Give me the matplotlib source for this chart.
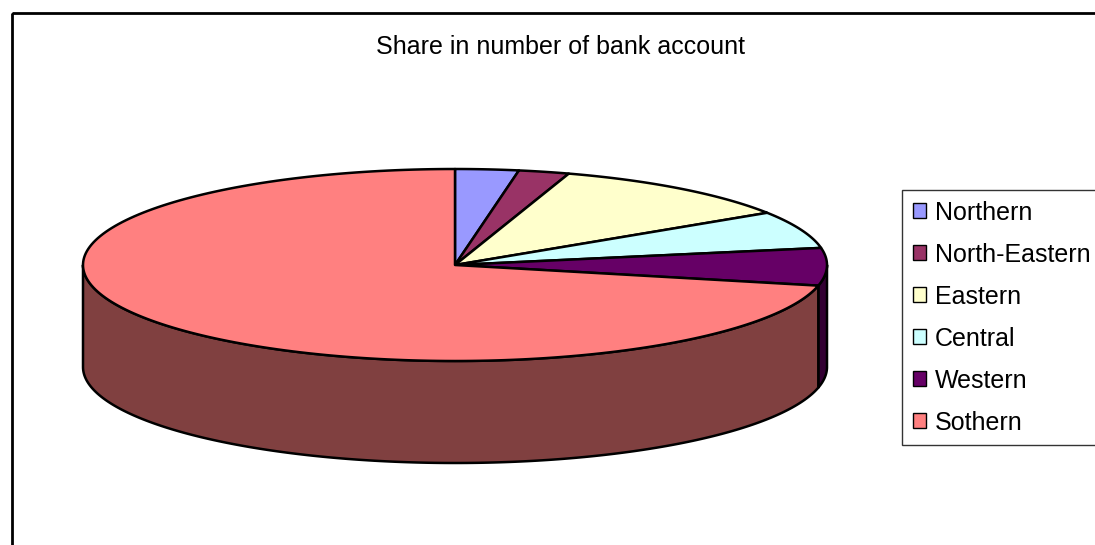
import numpy as np
import matplotlib.pyplot as plt
from matplotlib.patches import Polygon, Rectangle, Patch

plt.rcParams['font.family'] = ['Liberation Sans', 'DejaVu Sans']

# data (shares, %)
regions = ['Northern', 'North-Eastern', 'Eastern', 'Central', 'Western', 'Sothern']
shares = [2.75, 2.2, 10.9, 6.3, 6.3, 71.55]
colors = ['#9999FF', '#993366', '#FFFFCC', '#CCFFFF', '#660066', '#FF8080']
title = 'Share in number of bank account'

# pie geometry in pixel units (y grows downward)
cx, cy = 455, 265
rx, ry = 372, 96
depth = 102


def arc(t0, t1, dy=0, n=200):
    t = np.radians(np.linspace(t0, t1, n))
    return np.column_stack((cx + rx * np.cos(t), cy - ry * np.sin(t) + dy))


def darker(c, f=0.5):
    c = c.lstrip('#')
    rgb = [int(c[i:i + 2], 16) / 255 * f for i in (0, 2, 4)]
    return rgb


fig = plt.figure(figsize=(10.95, 5.45), dpi=100)
ax = fig.add_axes([0, 0, 1, 1])
ax.set_xlim(0, 1095)
ax.set_ylim(545, 0)
ax.axis('off')

# chart frame
ax.add_patch(Rectangle((12, 13), 1100, 550, fill=False, ec='black', lw=2))

fr = np.array(shares) / sum(shares)
ends = 90 - np.cumsum(fr) * 360
starts = np.concatenate(([90], ends[:-1]))

# side walls (front half only: -180..0 degrees)
for s, e, c in zip(starts, ends, colors):
    lo, hi = max(e, -180), min(s, 0)
    if hi <= lo:
        continue
    top = arc(lo, hi)
    bot = arc(hi, lo, dy=depth)
    ax.add_patch(Polygon(np.vstack((top, bot)), closed=True, fc=darker(c),
                         ec='black', lw=1.8, joinstyle='round'))

# top faces
for s, e, c in zip(starts, ends, colors):
    pts = np.vstack(([[cx, cy]], arc(s, e), [[cx, cy]]))
    ax.add_patch(Polygon(pts, closed=True, fc=c, ec='black', lw=1.8,
                         joinstyle='round'))

ax.text(561, 47, title, ha='center', va='center', fontsize=18)

handles = [Patch(fc=c, ec='black', lw=1) for c in colors]
leg = ax.legend(handles, regions, loc='upper left', bbox_to_anchor=(902 / 1095, 1 - 190 / 545),
                fontsize=18, frameon=True, fancybox=False, edgecolor='black',
                handlelength=0.55, handleheight=0.55, handletextpad=0.35,
                labelspacing=0.72, borderpad=0.42, borderaxespad=0)
leg.get_frame().set_linewidth(1)

fig.savefig('out.png', dpi=100)
